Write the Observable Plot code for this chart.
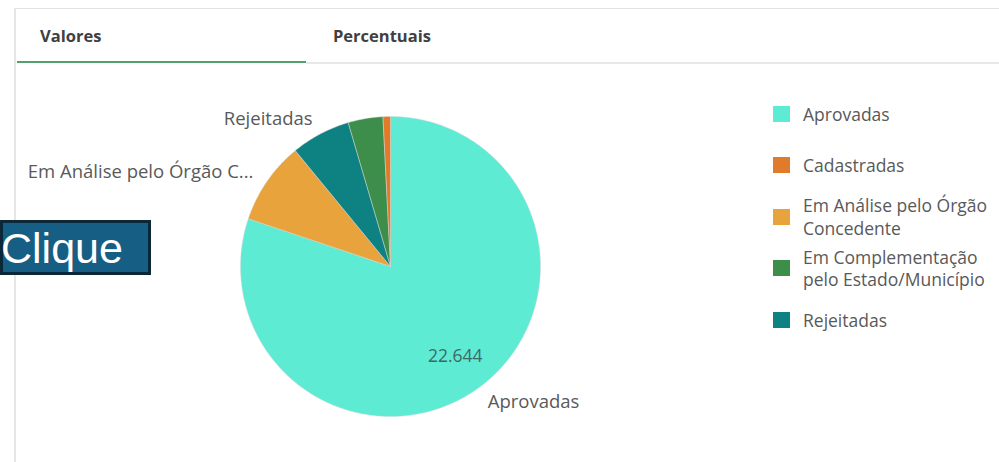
<!DOCTYPE html>
<html>
<head>
<meta charset="utf-8">
<script src="https://cdn.jsdelivr.net/npm/d3@7"></script>
<script src="https://cdn.jsdelivr.net/npm/@observablehq/plot@0.6"></script>
<style>
  html, body { margin: 0; padding: 0; background: #fff; }
  body { width: 999px; height: 462px; position: relative; overflow: hidden; font-family: "Open Sans", sans-serif; }
  #chart { position: absolute; left: 0; top: 0; }
  .frame-top { position: absolute; left: 15px; top: 8px; width: 984px; height: 1px; background: #e2e2e2; }
  .frame-left { position: absolute; left: 14px; top: 8px; width: 2px; height: 454px; background: #e6e6e6; }
  .tab { position: absolute; top: 24px; font-weight: 700; font-size: 16.5px; color: #404040; line-height: 24px; }
  .tab-line-green { position: absolute; left: 17px; top: 61px; width: 289px; height: 2px; background: #52a06c; }
  .tab-line-gray { position: absolute; left: 306px; top: 62px; width: 693px; height: 2px; background: #e8e8e8; }
  #legend { position: absolute; left: 773px; top: 88px; width: 226px; }
  .item { height: 51.5px; display: flex; align-items: center; }
  .sw { width: 17px; height: 16px; flex: none; margin-right: 13px; }
  .lt { font-size: 17.5px; line-height: 22.5px; color: #595959; width: 196px; }
  .clique-box { position: absolute; left: 0; top: 220px; width: 151px; height: 55px; box-sizing: border-box; border: 3px solid #0b2838; background: #175e84; z-index: 2; }
  .clique-text { position: absolute; left: 1px; top: 226px; font-family: "Liberation Sans", Arial, sans-serif; font-size: 43px; line-height: 44px; color: #fff; z-index: 3; }
</style>
</head>
<body>
<div id="chart"></div>
<div class="frame-top"></div>
<div class="frame-left"></div>
<div class="tab" style="left:40px">Valores</div>
<div class="tab" style="left:333px">Percentuais</div>
<div class="tab-line-green"></div>
<div class="tab-line-gray"></div>
<div id="legend"></div>
<div class="clique-box"></div>
<div class="clique-text">Clique</div>
<script>
// ---- data ----
const categories = ["Aprovadas", "Cadastradas", "Em Análise pelo Órgão Concedente", "Em Complementação pelo Estado/Município", "Rejeitadas"];
const legendLabels = ["Aprovadas", "Cadastradas", "Em Análise pelo Órgão Concedente", "Em Complementação pelo Estado/Município", "Rejeitadas"];
const values = [22644, 226, 2513, 1059, 1807];
const colors = ["#5eebd4", "#e07b2a", "#e8a33d", "#3d8e4b", "#0e8182"];
const sliceLabels = ["Aprovadas", "", "Em Análise pelo Órgão C...", "", "Rejeitadas"];
const valueLabels = ["22.644", "", "", "", ""];

// ---- pie geometry derived from data ----
const total = d3.sum(values);
const order = d3.range(values.length).sort((a, b) => values[b] - values[a]);
let acc = 0;
const slices = order.map(i => {
  const a0 = acc / total * 2 * Math.PI;
  acc += values[i];
  const a1 = acc / total * 2 * Math.PI;
  return {i, cat: categories[i], a0, a1, mid: (a0 + a1) / 2};
});
const pts = slices.flatMap(s => {
  const n = Math.max(2, Math.ceil((s.a1 - s.a0) / (Math.PI / 360)));
  const arr = [{cat: s.cat, x: 0, y: 0}];
  for (let k = 0; k <= n; k++) {
    const a = s.a0 + (s.a1 - s.a0) * k / n;
    arr.push({cat: s.cat, x: Math.sin(a), y: Math.cos(a)});
  }
  arr.push({cat: s.cat, x: 0, y: 0});
  return arr;
});
const labelR = 1.11, valueR = 0.74;
const outer = slices.filter(s => sliceLabels[s.i]).map(s => ({
  text: sliceLabels[s.i], x: labelR * Math.sin(s.mid), y: labelR * Math.cos(s.mid)
}));
const inner = slices.filter(s => valueLabels[s.i]).map(s => ({
  text: valueLabels[s.i], x: valueR * Math.sin(s.mid), y: valueR * Math.cos(s.mid)
}));

const chart = Plot.plot({
  width: 999, height: 462,
  marginLeft: 240, marginRight: 459, marginTop: 116, marginBottom: 46,
  x: {domain: [-1, 1], axis: null},
  y: {domain: [-1, 1], axis: null},
  color: {domain: categories, range: colors},
  style: {fontFamily: "Open Sans, sans-serif", background: "transparent", overflow: "visible"},
  marks: [
    Plot.line(pts, {x: "x", y: "y", z: "cat", fill: "cat", stroke: "#d8d8d8", strokeWidth: 0.6, strokeOpacity: 0.8}),
    Plot.text(outer.filter(d => d.x < 0), {x: "x", y: "y", text: "text", textAnchor: "end", fontSize: 18.5, fill: "#595959"}),
    Plot.text(outer.filter(d => d.x >= 0), {x: "x", y: "y", text: "text", textAnchor: "start", fontSize: 18.5, fill: "#595959"}),
    Plot.text(inner, {x: "x", y: "y", text: "text", fontSize: 17.5, fill: "#3f6964"})
  ]
});
document.getElementById("chart").appendChild(chart);

// ---- legend ----
const legend = document.getElementById("legend");
categories.forEach((c, i) => {
  const item = document.createElement("div");
  item.className = "item";
  const sw = document.createElement("div");
  sw.className = "sw";
  sw.style.background = colors[i];
  const lt = document.createElement("div");
  lt.className = "lt";
  lt.textContent = legendLabels[i];
  item.appendChild(sw); item.appendChild(lt);
  legend.appendChild(item);
});
</script>
</body>
</html>
